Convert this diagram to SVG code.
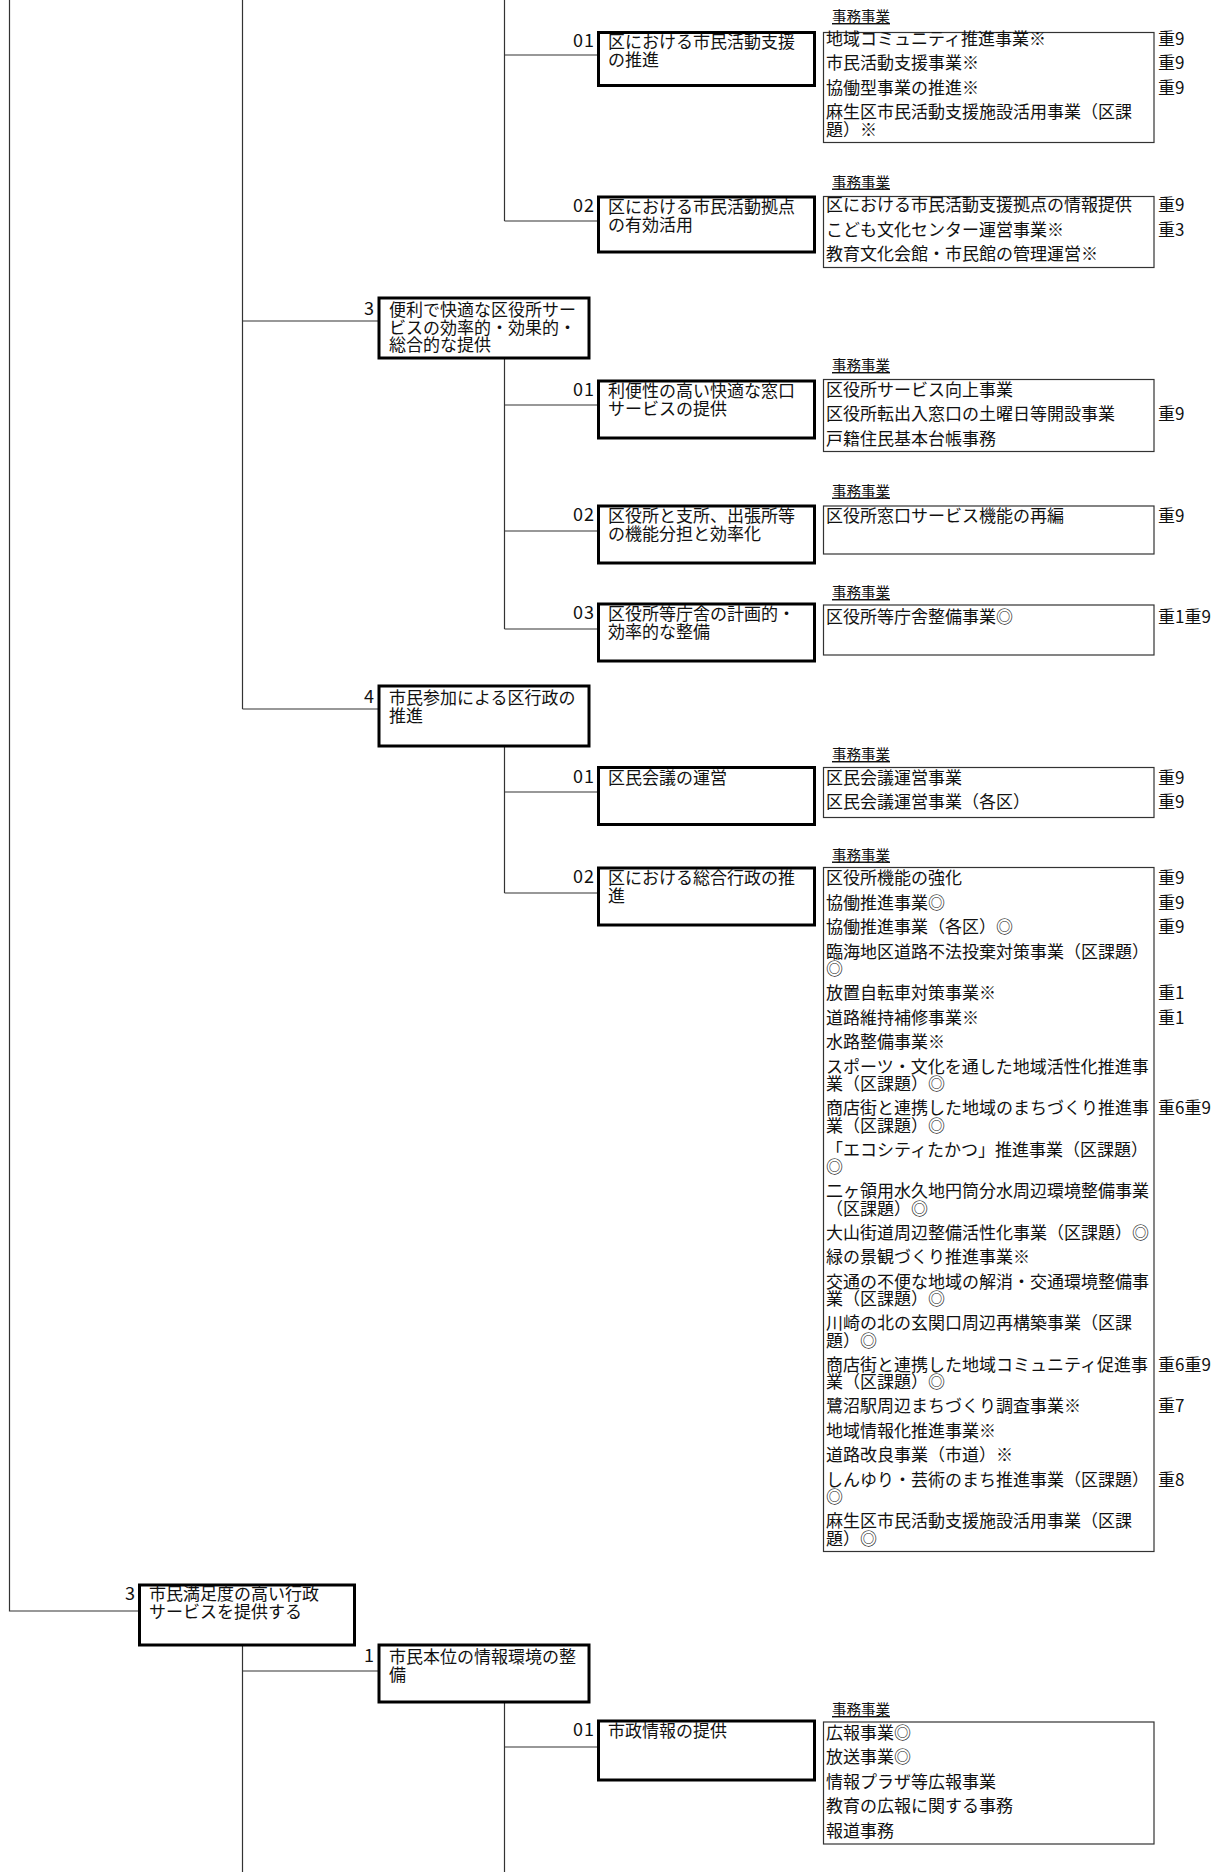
<svg xmlns="http://www.w3.org/2000/svg" width="1222" height="1872" viewBox="0 0 1222 1872">
<style>
text{font-family:"Noto Sans CJK JP","Noto Sans CJK SC",sans-serif;font-size:17px;fill:#111}
.lab{font-size:14.5px;text-decoration:underline}
.num{text-anchor:end;letter-spacing:1px;font-size:18px}
.box{fill:#fff;stroke:#000;stroke-width:3}
.jb{fill:#fff;stroke:#333;stroke-width:1.2}
.ln{stroke:#333;stroke-width:1.2;fill:none}
</style>
<rect width="1222" height="1872" fill="#fff"/>
<g id="connectors">
<path class="ln" d="M9.5 0V1611H139.5"/>
<path class="ln" d="M242.5 0V709M242.5 321H378M242.5 709H378"/>
<path class="ln" d="M504.5 0V221M504.5 55H598M504.5 221H598"/>
<path class="ln" d="M504.5 358V629M504.5 405H598M504.5 531H598M504.5 629H598"/>
<path class="ln" d="M504.5 746V893M504.5 792H598M504.5 893H598"/>
<path class="ln" d="M242.5 1645V1872M242.5 1671H378"/>
<path class="ln" d="M504.5 1702V1872M504.5 1747H598"/>
</g>
<g id="n-top3">
<rect class="box" x="139.5" y="1585" width="215" height="60"/>
<text class="num" x="136" y="1600">3</text>
<text x="149" y="1600">市民満足度の高い行政<tspan x="149" dy="17.5">サービスを提供する</tspan></text>
</g>
<g id="n-l2-3">
<rect class="box" x="379" y="298" width="210" height="60"/>
<text class="num" x="375" y="315">3</text>
<text x="389" y="316">便利で快適な区役所サー<tspan x="389" dy="17.5">ビスの効率的・効果的・</tspan><tspan x="389" dy="17.5">総合的な提供</tspan></text>
</g>
<g id="n-l2-4">
<rect class="box" x="379" y="686" width="210" height="60"/>
<text class="num" x="375" y="703">4</text>
<text x="389" y="704">市民参加による区行政の<tspan x="389" dy="17.5">推進</tspan></text>
</g>
<g id="n-l2-1">
<rect class="box" x="379" y="1645" width="210" height="57"/>
<text class="num" x="375" y="1662">1</text>
<text x="389" y="1663">市民本位の情報環境の整<tspan x="389" dy="17.5">備</tspan></text>
</g>
<g id="n-a01">
<rect class="box" x="598.5" y="32.5" width="216" height="53"/>
<text class="num" x="595" y="47">01</text>
<text x="608" y="48">区における市民活動支援<tspan x="608" dy="17.5">の推進</tspan></text>
</g>
<g id="n-a02">
<rect class="box" x="598.5" y="197" width="216" height="55"/>
<text class="num" x="595" y="212">02</text>
<text x="608" y="213">区における市民活動拠点<tspan x="608" dy="17.5">の有効活用</tspan></text>
</g>
<g id="n-b01">
<rect class="box" x="598.5" y="381" width="216" height="57"/>
<text class="num" x="595" y="396">01</text>
<text x="608" y="397">利便性の高い快適な窓口<tspan x="608" dy="17.5">サービスの提供</tspan></text>
</g>
<g id="n-b02">
<rect class="box" x="598.5" y="506" width="216" height="57"/>
<text class="num" x="595" y="521">02</text>
<text x="608" y="522">区役所と支所、出張所等<tspan x="608" dy="17.5">の機能分担と効率化</tspan></text>
</g>
<g id="n-b03">
<rect class="box" x="598.5" y="604" width="216" height="57"/>
<text class="num" x="595" y="619">03</text>
<text x="608" y="620">区役所等庁舎の計画的・<tspan x="608" dy="17.5">効率的な整備</tspan></text>
</g>
<g id="n-c01">
<rect class="box" x="598.5" y="767.5" width="216" height="57"/>
<text class="num" x="595" y="782.5">01</text>
<text x="608" y="783.5">区民会議の運営</text>
</g>
<g id="n-c02">
<rect class="box" x="598.5" y="868" width="216" height="57"/>
<text class="num" x="595" y="883">02</text>
<text x="608" y="884">区における総合行政の推<tspan x="608" dy="17.5">進</tspan></text>
</g>
<g id="n-d01">
<rect class="box" x="598.5" y="1721" width="216" height="59"/>
<text class="num" x="595" y="1736">01</text>
<text x="608" y="1737">市政情報の提供</text>
</g>
<g id="j1">
<text class="lab" x="832" y="22">事務事業</text>
<rect class="jb" x="823.5" y="32.5" width="330.5" height="110"/>
<text x="826" y="45">地域コミュニティ推進事業※</text><text x="1158" y="45">重9</text>
<text x="826" y="69">市民活動支援事業※</text><text x="1158" y="69">重9</text>
<text x="826" y="93.5">協働型事業の推進※</text><text x="1158" y="93.5">重9</text>
<text x="826" y="118">麻生区市民活動支援施設活用事業（区課<tspan x="826" dy="17.5">題）※</tspan></text>
</g>
<g id="j2">
<text class="lab" x="832" y="187.5">事務事業</text>
<rect class="jb" x="823.5" y="196.5" width="330.5" height="71"/>
<text x="826" y="211">区における市民活動支援拠点の情報提供</text><text x="1158" y="211">重9</text>
<text x="826" y="235.5">こども文化センター運営事業※</text><text x="1158" y="235.5">重3</text>
<text x="826" y="260">教育文化会館・市民館の管理運営※</text>
</g>
<g id="j3">
<text class="lab" x="832" y="371">事務事業</text>
<rect class="jb" x="823.5" y="379.5" width="330.5" height="72"/>
<text x="826" y="395.5">区役所サービス向上事業</text>
<text x="826" y="420">区役所転出入窓口の土曜日等開設事業</text><text x="1158" y="420">重9</text>
<text x="826" y="444.5">戸籍住民基本台帳事務</text>
</g>
<g id="j4">
<text class="lab" x="832" y="496.5">事務事業</text>
<rect class="jb" x="823.5" y="506" width="330.5" height="48"/>
<text x="826" y="522">区役所窓口サービス機能の再編</text><text x="1158" y="522">重9</text>
</g>
<g id="j5">
<text class="lab" x="832" y="598">事務事業</text>
<rect class="jb" x="823.5" y="605" width="330.5" height="50"/>
<text x="826" y="622.5">区役所等庁舎整備事業◎</text><text x="1158" y="622.5">重1重9</text>
</g>
<g id="j6">
<text class="lab" x="832" y="760">事務事業</text>
<rect class="jb" x="823.5" y="767.5" width="330.5" height="50"/>
<text x="826" y="783.5">区民会議運営事業</text><text x="1158" y="783.5">重9</text>
<text x="826" y="808">区民会議運営事業（各区）</text><text x="1158" y="808">重9</text>
</g>
<g id="j7">
<text class="lab" x="832" y="860.5">事務事業</text>
<rect class="jb" x="823.5" y="867.5" width="330.5" height="684"/>
<text x="826" y="884">区役所機能の強化</text><text x="1158" y="884">重9</text>
<text x="826" y="908.5">協働推進事業◎</text><text x="1158" y="908.5">重9</text>
<text x="826" y="933">協働推進事業（各区）◎</text><text x="1158" y="933">重9</text>
<text x="826" y="957.5">臨海地区道路不法投棄対策事業（区課題）<tspan x="826" dy="17.5">◎</tspan></text>
<text x="826" y="999">放置自転車対策事業※</text><text x="1158" y="999">重1</text>
<text x="826" y="1023.5">道路維持補修事業※</text><text x="1158" y="1023.5">重1</text>
<text x="826" y="1048">水路整備事業※</text>
<text x="826" y="1072.5">スポーツ・文化を通した地域活性化推進事<tspan x="826" dy="17.5">業（区課題）◎</tspan></text>
<text x="826" y="1114">商店街と連携した地域のまちづくり推進事<tspan x="826" dy="17.5">業（区課題）◎</tspan></text><text x="1158" y="1114">重6重9</text>
<text x="826" y="1155.5">「エコシティたかつ」推進事業（区課題）<tspan x="826" dy="17.5">◎</tspan></text>
<text x="826" y="1197">二ヶ領用水久地円筒分水周辺環境整備事業<tspan x="826" dy="17.5">（区課題）◎</tspan></text>
<text x="826" y="1238.5">大山街道周辺整備活性化事業（区課題）◎</text>
<text x="826" y="1263">緑の景観づくり推進事業※</text>
<text x="826" y="1287.5">交通の不便な地域の解消・交通環境整備事<tspan x="826" dy="17.5">業（区課題）◎</tspan></text>
<text x="826" y="1329">川崎の北の玄関口周辺再構築事業（区課<tspan x="826" dy="17.5">題）◎</tspan></text>
<text x="826" y="1370.5">商店街と連携した地域コミュニティ促進事<tspan x="826" dy="17.5">業（区課題）◎</tspan></text><text x="1158" y="1370.5">重6重9</text>
<text x="826" y="1412">鷺沼駅周辺まちづくり調査事業※</text><text x="1158" y="1412">重7</text>
<text x="826" y="1436.5">地域情報化推進事業※</text>
<text x="826" y="1461">道路改良事業（市道）※</text>
<text x="826" y="1485.5">しんゆり・芸術のまち推進事業（区課題）<tspan x="826" dy="17.5">◎</tspan></text><text x="1158" y="1485.5">重8</text>
<text x="826" y="1527">麻生区市民活動支援施設活用事業（区課<tspan x="826" dy="17.5">題）◎</tspan></text>
</g>
<g id="j8">
<text class="lab" x="832" y="1715">事務事業</text>
<rect class="jb" x="823.5" y="1722" width="330.5" height="122"/>
<text x="826" y="1738.5">広報事業◎</text>
<text x="826" y="1763">放送事業◎</text>
<text x="826" y="1787.5">情報プラザ等広報事業</text>
<text x="826" y="1812">教育の広報に関する事務</text>
<text x="826" y="1836.5">報道事務</text>
</g>
</svg>
